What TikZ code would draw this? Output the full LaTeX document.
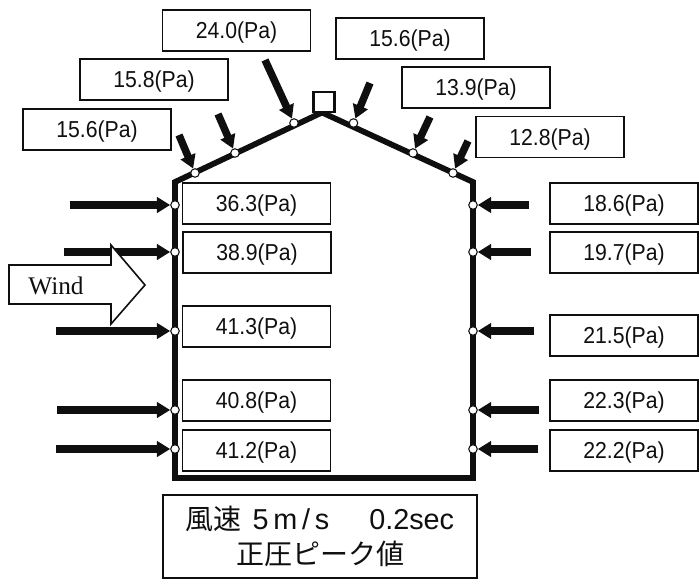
\documentclass[tikz,border=0pt]{standalone}
\usepackage{xcolor}
\usepackage{fontspec}
\setmainfont[FakeStretch=0.92]{Liberation Sans}
\newfontfamily\serifwind{Liberation Serif}
\newfontfamily\capfont{Liberation Sans}
\newfontfamily\cjk{Noto Sans CJK JP}
\usepackage{tikz}
\usetikzlibrary{arrows.meta, positioning, calc}
\definecolor{myink}{RGB}{15,15,15}
\tikzset{
  valbox/.style={rectangle, draw=myink, fill=white, line width=1.2pt,
    minimum width=111pt, minimum height=30.5pt, inner sep=0pt,
    text height=12pt, text depth=0pt,
    font=\fontsize{17.3}{18}\selectfont, text=myink},
  tapnode/.style={circle, draw=myink, fill=white, line width=0.8pt,
    minimum size=6.4pt, inner sep=0pt},
  pressarrow/.style={-{Triangle[length=10pt, width=11.5pt]}, line width=5.6pt, color=myink},
  shell/.style={line width=4.3pt, color=myink, line join=miter}
}

\begin{document}
\begin{tikzpicture}[x=0.75pt, y=-0.75pt]
  \useasboundingbox (0,0) rectangle (699,585);

  % Building outline
  \draw[shell] (175,478) -- (175,182) -- (322,112.5) -- (473,182) -- (473,478) -- cycle;
  \draw[line width=2.2pt, color=myink, fill=white] (313.5,92) rectangle (334.5,112);

  % Pressure taps, left wall
  \node[tapnode] (wl1) at (175,205) {};
  \node[tapnode] (wl2) at (175,252) {};
  \node[tapnode] (wl3) at (175,331) {};
  \node[tapnode] (wl4) at (175,410) {};
  \node[tapnode] (wl5) at (175,449) {};
  % Pressure taps, right wall
  \node[tapnode] (wr1) at (473,205) {};
  \node[tapnode] (wr2) at (473,252) {};
  \node[tapnode] (wr3) at (473,331) {};
  \node[tapnode] (wr4) at (473,410) {};
  \node[tapnode] (wr5) at (473,449) {};
  % Pressure taps, roof
  \node[tapnode] (rf1) at (195,173) {};
  \node[tapnode] (rf2) at (235,153) {};
  \node[tapnode] (rf3) at (294,123) {};
  \node[tapnode] (rf4) at (353.5,123) {};
  \node[tapnode] (rf5) at (413,153) {};
  \node[tapnode] (rf6) at (453,173) {};

  % Free ends of the arrows
  \coordinate (awl1) at (70,205);
  \coordinate (awl2) at (64,252);
  \coordinate (awl3) at (56,331);
  \coordinate (awl4) at (57,410);
  \coordinate (awl5) at (56,449);
  \coordinate (awr1) at (529,205);
  \coordinate (awr2) at (531,252);
  \coordinate (awr3) at (534,331);
  \coordinate (awr4) at (539,410);
  \coordinate (awr5) at (538,449);
  \coordinate (arf1) at (179,135);
  \coordinate (arf2) at (218,114);
  \coordinate (arf3) at (265,60);
  \coordinate (arf4) at (370,83);
  \coordinate (arf5) at (430,117);
  \coordinate (arf6) at (468,141);

  % Arrows
  \draw[pressarrow] (awl1) -- (wl1);
  \draw[pressarrow] (awl2) -- (wl2);
  \draw[pressarrow] (awl3) -- (wl3);
  \draw[pressarrow] (awl4) -- (wl4);
  \draw[pressarrow] (awl5) -- (wl5);
  \draw[pressarrow] (awr1) -- (wr1);
  \draw[pressarrow] (awr2) -- (wr2);
  \draw[pressarrow] (awr3) -- (wr3);
  \draw[pressarrow] (awr4) -- (wr4);
  \draw[pressarrow] (awr5) -- (wr5);
  \draw[pressarrow] (arf1) -- (rf1);
  \draw[pressarrow] (arf2) -- (rf2);
  \draw[pressarrow] (arf3) -- (rf3);
  \draw[pressarrow] (arf4) -- (rf4);
  \draw[pressarrow] (arf5) -- (rf5);
  \draw[pressarrow] (arf6) -- (rf6);

  % Wind arrow
  \draw[line width=1.2pt, color=myink, fill=white]
    (9,265) -- (111,265) -- (111,245) -- (145,285) -- (111,324) -- (111,304) -- (9,304) -- cycle;
  \node[font=\serifwind\fontsize{19}{21}\selectfont, text=myink] (wind) at (56,286) {Wind};

  % Roof values
  \node[valbox] (v1) at (236.5,30.5) {24.0(Pa)};
  \node[valbox] (v2) at (154,79.5) {15.8(Pa)};
  \node[valbox] (v3) at (97,129.5) {15.6(Pa)};
  \node[valbox] (v4) at (410,38.5) {15.6(Pa)};
  \node[valbox] (v5) at (476,87.5) {13.9(Pa)};
  \node[valbox] (v6) at (550,137) {12.8(Pa)};

  % Left wall values
  \node[valbox] (v7) at (256.5,203.5) {36.3(Pa)};
  \node[valbox] (v8) at (257,252.5) {38.9(Pa)};
  \node[valbox] (v9) at (256.5,326.5) {41.3(Pa)};
  \node[valbox] (v10) at (256.5,400.5) {40.8(Pa)};
  \node[valbox] (v11) at (256.5,450.5) {41.2(Pa)};

  % Right wall values
  \node[valbox] (v12) at (624,203.5) {18.6(Pa)};
  \node[valbox] (v13) at (624,252.5) {19.7(Pa)};
  \node[valbox] (v14) at (624,335.5) {21.5(Pa)};
  \node[valbox] (v15) at (624,400.5) {22.3(Pa)};
  \node[valbox] (v16) at (624,450.5) {22.2(Pa)};

  % Caption
  \node[rectangle, draw=myink, fill=white, line width=1.2pt, minimum width=235.5pt,
    minimum height=62pt, inner sep=0pt, align=center, text=myink,
    font=\capfont\fontsize{21.6}{26}\selectfont] (cap) at (320,536.5)
    {{\cjk\fontsize{21}{26}\selectfont 風速}\hspace{8pt}5\,m\,/\,s\hspace{30pt}0.2sec\\
     {\cjk\fontsize{21}{26}\selectfont 正圧ピーク値}};
\end{tikzpicture}
\end{document}
